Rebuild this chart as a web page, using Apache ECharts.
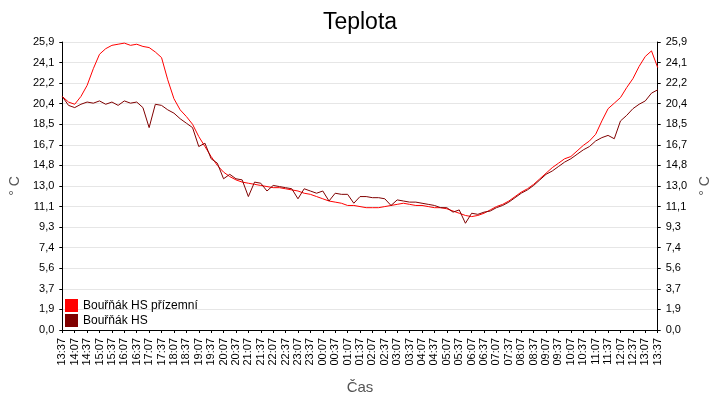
<!DOCTYPE html>
<html>
<head>
<meta charset="utf-8">
<script src="https://cdn.jsdelivr.net/npm/echarts@6/dist/echarts.min.js"></script>
<style>html,body{margin:0;padding:0;background:#fff}#chart{width:720px;height:400px}</style>
</head>
<body>
<div id="chart"></div>
<script>
// 15-minute samples starting 13:37, four per hour
var startMinutes = 13 * 60 + 37;
var seriesNames = ['Bouřňák HS přízemní', 'Bouřňák HS'];
var yTicks = [0, 1.85, 3.7, 5.55, 7.4, 9.25, 11.1, 12.95, 14.8, 16.65, 18.5, 20.35, 22.2, 24.05, 25.9];

var groundTemp = [
    21.0, 20.5, 20.3, 21.0,  22.0, 23.5, 24.8, 25.3,  25.6, 25.7, 25.8, 25.6,  25.7, 25.5, 25.4, 25.0,
    24.5, 22.5, 20.8, 19.8,  19.2, 18.5, 17.4, 16.5,  15.6, 14.8, 14.2, 13.8,  13.5, 13.3, 13.2, 13.1,
    13.0, 12.9, 12.8, 12.8,  12.7, 12.6, 12.5, 12.3,  12.2, 12.0, 11.8, 11.6,  11.5, 11.4, 11.2, 11.2,
    11.1, 11.0, 11.0, 11.0,  11.1, 11.2, 11.3, 11.4,  11.3, 11.2, 11.2, 11.1,  11.0, 11.0, 10.9, 10.7,
    10.5, 10.3, 10.2, 10.3,  10.5, 10.8, 11.1, 11.3,  11.6, 12.0, 12.4, 12.7,  13.1, 13.6, 14.1, 14.6,
    15.0, 15.4, 15.6, 16.1,  16.6, 17.0, 17.6, 18.8,  19.9, 20.4, 20.9, 21.8,  22.6, 23.7, 24.6, 25.1,
    23.6
];
var hsTemp = [
    21.0, 20.2, 20.0, 20.3,  20.5, 20.4, 20.6, 20.3,  20.5, 20.2, 20.6, 20.4,  20.5, 20.0, 18.2, 20.3,
    20.2, 19.8, 19.5, 19.0,  18.6, 18.2, 16.5, 16.8,  15.4, 15.0, 13.6, 14.0,  13.6, 13.5, 12.0, 13.3,
    13.2, 12.5, 13.0, 12.9,  12.8, 12.7, 11.8, 12.7,  12.5, 12.3, 12.5, 11.6,  12.3, 12.2, 12.2, 11.4,
    12.0, 12.0, 11.9, 11.9,  11.8, 11.2, 11.7, 11.6,  11.5, 11.5, 11.4, 11.3,  11.2, 11.0, 11.0, 10.6,
    10.8, 9.6, 10.5, 10.4,  10.6, 10.7, 11.0, 11.2,  11.5, 11.9, 12.3, 12.6,  13.0, 13.5, 14.0, 14.3,
    14.7, 15.1, 15.4, 15.8,  16.2, 16.5, 17.0, 17.3,  17.5, 17.2, 18.8, 19.3,  19.9, 20.3, 20.6, 21.3,
    21.6
];

var times = groundTemp.map(function (v, i) {
    var m = (startMinutes + i * 15) % 1440;
    var h = Math.floor(m / 60), mm = m % 60;
    return (h < 10 ? '0' : '') + h + ':' + (mm < 10 ? '0' : '') + mm;
});

var fmt = function (v) {
    for (var i = 0; i < yTicks.length; i++) {
        if (Math.abs(yTicks[i] - v) < 0.01) return (Math.round(v * 10) / 10).toFixed(1).replace('.', ',');
    }
    return '';
};

var chart = echarts.init(document.getElementById('chart'));
var yAxisBase = {
    type: 'value', min: 0, max: 25.9, interval: 1.85,
    axisLine: {show: true, lineStyle: {color: '#000'}},
    axisTick: {show: true, length: 3},
    axisLabel: {color: '#000', fontSize: 11, formatter: fmt},
    name: '° C', nameLocation: 'middle', nameGap: 40, nameRotate: 90,
    nameTextStyle: {fontSize: 14, color: '#555'}
};
chart.setOption({
    animation: false,
    textStyle: {fontFamily: 'Liberation Sans'},
    title: {text: 'Teplota', left: 'center', top: 6, textStyle: {fontSize: 23, fontWeight: 'normal', color: '#000'}},
    legend: {
        data: seriesNames, orient: 'vertical', left: 60, top: 294, itemGap: 2,
        itemWidth: 13, itemHeight: 13, icon: 'rect',
        textStyle: {fontSize: 12, color: '#000'}
    },
    grid: {left: 55, right: 55, top: 42, bottom: 68},
    xAxis: {
        type: 'category', data: times, boundaryGap: false,
        name: 'Čas', nameLocation: 'middle', nameGap: 50,
        nameTextStyle: {fontSize: 15, color: '#555'},
        axisLine: {lineStyle: {color: '#000'}},
        axisTick: {interval: 1, length: 3},
        axisLabel: {interval: 1, rotate: 90, fontSize: 11, color: '#000'}
    },
    yAxis: [
        Object.assign({}, yAxisBase, {position: 'left', splitLine: {lineStyle: {color: '#e6e6e6'}}}),
        Object.assign({}, yAxisBase, {position: 'right', splitLine: {show: false}})
    ],
    series: [
        {name: seriesNames[0], type: 'line', data: groundTemp, showSymbol: false,
         itemStyle: {color: '#ff0000'}, lineStyle: {width: 1, color: '#ff0000'}},
        {name: seriesNames[1], type: 'line', data: hsTemp, showSymbol: false,
         itemStyle: {color: '#800000'}, lineStyle: {width: 1, color: '#800000'}}
    ]
});
</script>
</body>
</html>
